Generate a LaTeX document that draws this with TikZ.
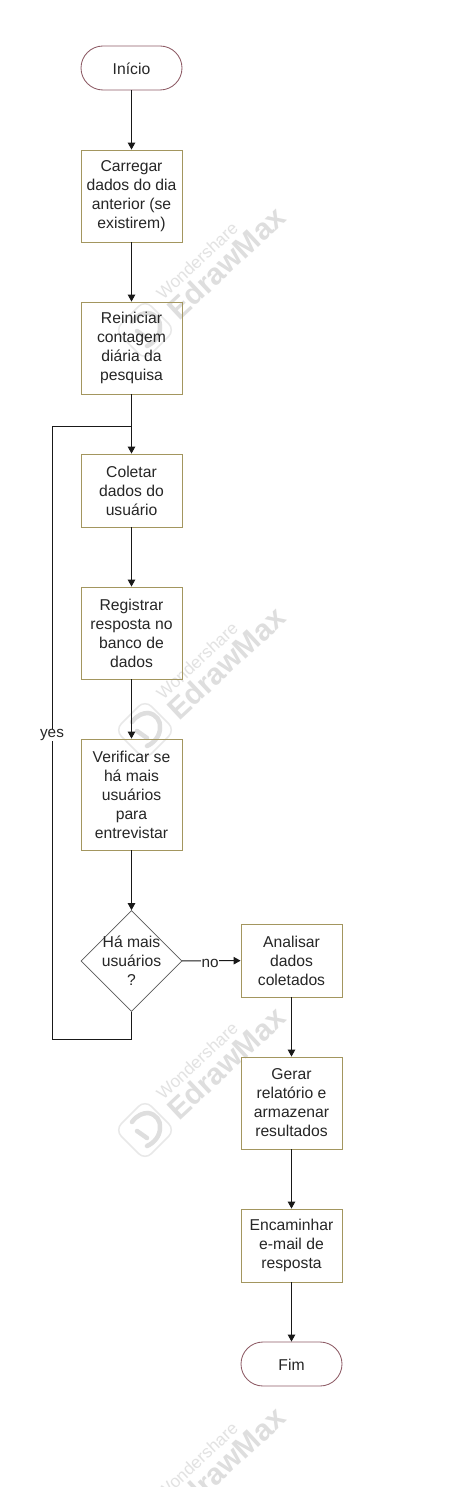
\documentclass[tikz,border=0pt]{standalone}
\usepackage{fontspec}
\setmainfont{Liberation Sans}
\usetikzlibrary{arrows.meta,shapes.geometric,calc}
\definecolor{boxline}{HTML}{A3965F}
\definecolor{termline}{HTML}{8E5C66}
\definecolor{decline}{HTML}{5A5A5A}
\definecolor{inktext}{HTML}{262626}
\definecolor{wmark}{HTML}{DEDEDE}
\definecolor{wmarklight}{HTML}{E2E2E2}
\definecolor{wmarkline}{HTML}{E8E8E8}
\newcommand{\toprule}{\rule{0pt}{13.5pt}}
\tikzset{
  labelfont/.style={font=\fontsize{15.7}{19}\selectfont,text=inktext,align=center,inner sep=0pt,execute at begin node=\toprule},
  boxnode/.style={labelfont,draw=boxline,line width=0.85pt,rectangle,minimum width=101pt},
  termnode/.style={labelfont,draw=termline,line width=0.85pt,rectangle,rounded corners=22pt,minimum width=101pt,minimum height=44pt},
  decnode/.style={draw=decline,line width=0.7pt,diamond,aspect=1,minimum width=101pt,minimum height=101pt,inner sep=0pt},
  dectext/.style={labelfont},
  edgetext/.style={fill=white,inner sep=0.3pt,text=inktext,font=\fontsize{15.3}{18}\selectfont},
  link/.style={draw=black!90,line width=1pt,-{Triangle[width=7.5pt,length=7pt]}},
  plainlink/.style={draw=black!90,line width=1pt},
  wmbig/.style={text=wmark,font=\bfseries\fontsize{30}{30}\selectfont,rotate=43,inner sep=0pt},
  wmsmall/.style={text=wmarklight,font=\fontsize{17.3}{18}\selectfont,rotate=43,inner sep=0pt},
}
\newcommand{\wmstamp}[3]{%
  \begin{scope}[shift={(#2,#3)}]
    \draw[wmarkline,line width=1.5pt,rounded corners=9pt] (0,-30)--(30,0)--(0,30)--(-30,0)--cycle;
    \draw[wmark,line width=4.5pt,line cap=round] (-13,-8) .. controls (-8,-15) and (-2,-17) .. (3,-17) .. controls (11,-16) and (16,-9) .. (15,-2) .. controls (15,6) and (9,13) .. (2,16);
    \draw[wmark,line width=4.5pt,line cap=round] (-8,1)--(2,8);
    \node[wmbig] (#1big) at (81,-67) {EdrawMax};
    \node[wmsmall] (#1small) at (52,-69) {Wondershare};
  \end{scope}}
\begin{document}
\begin{tikzpicture}[x=1pt,y=-1pt]
\fill[white] (0,0) rectangle (472,1487);
\useasboundingbox (0,0) rectangle (472,1487);
\begin{scope}
  \clip (0,0) rectangle (472,1487);
  \wmstamp{wa}{145}{330}
  \wmstamp{wb}{145}{730}
  \wmstamp{wc}{145}{1130}
  \wmstamp{wd}{145}{1530}
\end{scope}
\node[termnode] (inicio) at (131.5,68) {Início};
\node[boxnode,minimum height=92pt] (carregar) at (131.5,196) {Carregar\\dados do dia\\anterior (se\\existirem)};
\node[boxnode,minimum height=92pt] (reiniciar) at (131.5,348) {Reiniciar\\contagem\\diária da\\pesquisa};
\node[boxnode,minimum height=73pt] (coletar) at (131.5,490.5) {Coletar\\dados do\\usuário};
\node[boxnode,minimum height=92pt] (registrar) at (131.5,633) {Registrar\\resposta no\\banco de\\dados};
\node[boxnode,minimum height=111pt] (verificar) at (131.5,794.5) {Verificar se\\há mais\\usuários\\para\\entrevistar};
\node[decnode] (decisao) at (131.5,961) {};
\node[dectext] (decisaotxt) at (decisao) {Há mais\\usuários\\?};
\node[boxnode,minimum height=73pt] (analisar) at (291.5,960.5) {Analisar\\dados\\coletados};
\node[boxnode,minimum height=92pt] (gerar) at (291.5,1103) {Gerar\\relatório e\\armazenar\\resultados};
\node[boxnode,minimum height=73pt] (encaminhar) at (291.5,1245.5) {Encaminhar\\e-mail de\\resposta};
\node[termnode] (fim) at (291.5,1364) {Fim};
\coordinate (loopa) at (131.5,1039.5);
\coordinate (loopb) at (52.5,1039.5);
\coordinate (loopc) at (52.5,426.5);
\coordinate (loopd) at (131.5,426.5);
\draw[link] (inicio) -- (carregar);
\draw[link] (carregar) -- (reiniciar);
\draw[link] (reiniciar) -- (coletar);
\draw[link] (coletar) -- (registrar);
\draw[link] (registrar) -- (verificar);
\draw[link] (verificar) -- (decisao);
\draw[link] (analisar) -- (gerar);
\draw[link] (gerar) -- (encaminhar);
\draw[link] (encaminhar) -- (fim);
\draw[link] (decisao) -- node[edgetext,pos=0.48,yshift=-2.5pt] (nolabel) {no} (analisar);
\draw[plainlink] (decisao.south) -- (loopa) -- (loopb) -- (loopc) -- (loopd);
\node[edgetext] (yeslabel) at (52,734.5) {yes};
\end{tikzpicture}
\end{document}
